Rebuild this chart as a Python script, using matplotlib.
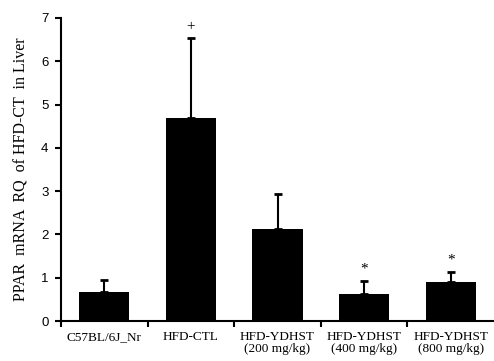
import numpy as np
import matplotlib.pyplot as plt

groups = ['C57BL/6J_Nr', 'HFD-CTL', 'HFD-YDHST\n(200 mg/kg)',
          'HFD-YDHST\n(400 mg/kg)', 'HFD-YDHST\n(800 mg/kg)']
means = [0.67, 4.69, 2.12, 0.63, 0.90]
errors = [0.28, 1.85, 0.82, 0.29, 0.23]
marks = ['', '+', '', '*', '*']

fig = plt.figure(figsize=(4.94, 3.61), dpi=100)
ax = fig.add_axes([61 / 494, 40 / 361, 433 / 494, 303 / 361])

x = np.arange(len(groups))
ax.bar(x, means, width=0.58, color='black')
ax.errorbar(x, means, yerr=[np.zeros(len(means)), errors], fmt='none',
            ecolor='black', elinewidth=1.5, capsize=3, capthick=2)
for xi, m, e, s in zip(x, means, errors, marks):
    if s:
        ax.text(xi, m + e + 0.12, s, ha='center', va='bottom',
                family='Liberation Serif', fontsize=11)

ax.set_xlim(-0.5, 4.5)
ax.set_ylim(0, 7)
ax.set_yticks(range(8))
ax.set_yticklabels([str(i) for i in range(8)], family='Liberation Sans', fontsize=9.5)
ax.set_xticks(np.arange(-0.5, 4.5, 1.0))
ax.set_xticklabels([])
ax.set_xticks(x, minor=True)
ax.set_xticklabels(groups, minor=True, family='Liberation Serif', fontsize=9.5,
                   linespacing=1.0)
ax.tick_params(axis='x', which='minor', length=0, pad=7)
ax.tick_params(axis='x', which='major', length=4, width=1.5, direction='out')
ax.tick_params(axis='y', length=4, width=1.5, direction='out', pad=5)
ax.spines['top'].set_visible(False)
ax.spines['right'].set_visible(False)
ax.spines['left'].set_linewidth(1.5)
ax.spines['bottom'].set_linewidth(1.5)
ax.set_ylabel('PPAR  mRNA  RQ  of HFD-CT  in Liver', family='Liberation Serif',
              fontsize=11.5, labelpad=8)

fig.savefig('out.png', dpi=100)
